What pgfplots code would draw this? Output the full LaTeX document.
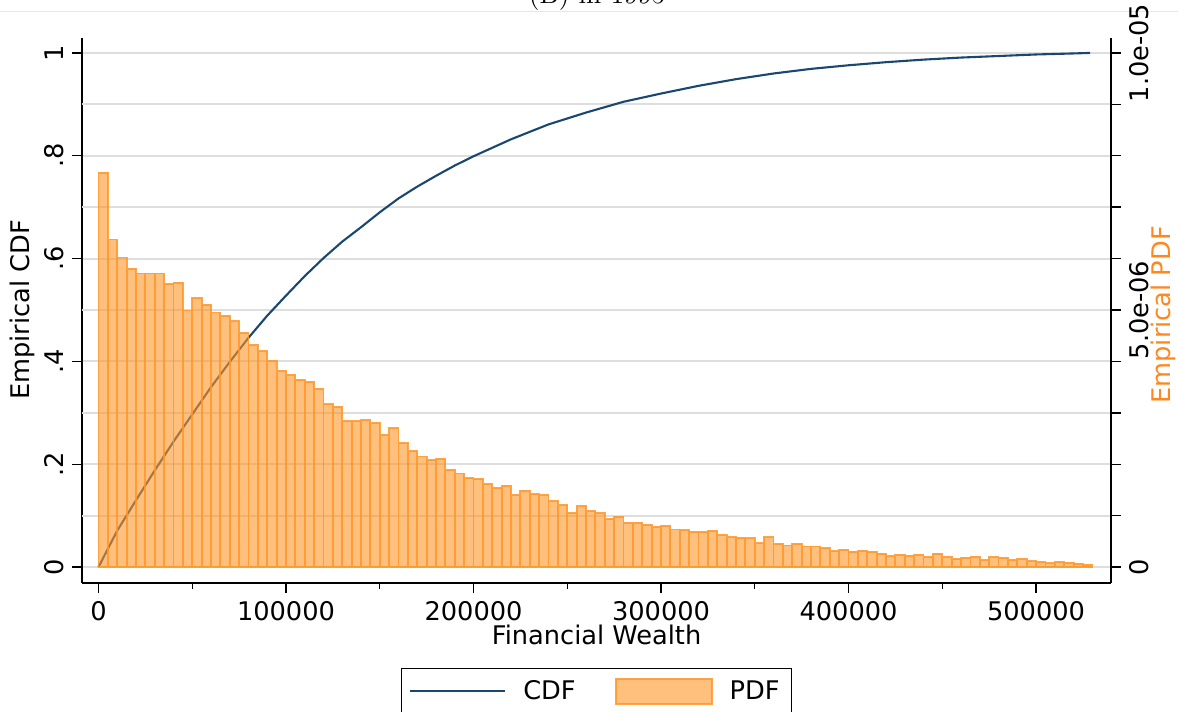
\documentclass[border=0pt]{standalone}
\usepackage{pgfplots}
\pgfplotsset{compat=1.18}
\usepackage{pgfplotstable}
\usepackage{fontspec}
\newfontfamily\dv{DejaVu Sans}
\newcommand\lab{\dv\fontsize{11}{13}\selectfont}
\definecolor{navy}{RGB}{26,71,111}
\definecolor{sorange}{RGB}{255,150,40}
\definecolor{plabel}{RGB}{255,135,30}
\definecolor{gridc}{RGB}{222,222,222}
\definecolor{topline}{RGB}{226,231,231}
\pgfplotsset{
  lineleg/.style={legend image code/.code={\draw[##1] (0pt,0pt) -- (41pt,0pt);}},
  boxleg/.style={legend image code/.code={\draw[##1] (0pt,-5.3pt) rectangle (41pt,5.3pt);}},
}

\pgfplotstableread{
x pdf
2500 7.67e-6
7500 6.37e-6
12500 6.02e-6
17500 5.80e-6
22500 5.71e-6
27500 5.71e-6
32500 5.71e-6
37500 5.51e-6
42500 5.53e-6
47500 4.99e-6
52500 5.23e-6
57500 5.10e-6
62500 4.95e-6
67500 4.89e-6
72500 4.78e-6
77500 4.55e-6
82500 4.32e-6
87500 4.20e-6
92500 4.01e-6
97500 3.81e-6
102500 3.73e-6
107500 3.64e-6
112500 3.60e-6
117500 3.47e-6
122500 3.17e-6
127500 3.11e-6
132500 2.84e-6
137500 2.84e-6
142500 2.86e-6
147500 2.80e-6
152500 2.57e-6
157500 2.70e-6
162500 2.41e-6
167500 2.26e-6
172500 2.15e-6
177500 2.08e-6
182500 2.10e-6
187500 1.89e-6
192500 1.82e-6
197500 1.73e-6
202500 1.71e-6
207500 1.61e-6
212500 1.54e-6
217500 1.58e-6
222500 1.40e-6
227500 1.48e-6
232500 1.42e-6
237500 1.40e-6
242500 1.28e-6
247500 1.20e-6
252500 1.05e-6
257500 1.18e-6
262500 1.09e-6
267500 1.05e-6
272500 0.93e-6
277500 0.97e-6
282500 0.86e-6
287500 0.86e-6
292500 0.82e-6
297500 0.78e-6
302500 0.80e-6
307500 0.73e-6
312500 0.72e-6
317500 0.69e-6
322500 0.68e-6
327500 0.70e-6
332500 0.62e-6
337500 0.58e-6
342500 0.57e-6
347500 0.56e-6
352500 0.46e-6
357500 0.58e-6
362500 0.45e-6
367500 0.42e-6
372500 0.45e-6
377500 0.40e-6
382500 0.40e-6
387500 0.37e-6
392500 0.31e-6
397500 0.34e-6
402500 0.30e-6
407500 0.32e-6
412500 0.30e-6
417500 0.26e-6
422500 0.215e-6
427500 0.24e-6
432500 0.22e-6
437500 0.24e-6
442500 0.195e-6
447500 0.26e-6
452500 0.20e-6
457500 0.156e-6
462500 0.18e-6
467500 0.20e-6
472500 0.13e-6
477500 0.195e-6
482500 0.18e-6
487500 0.136e-6
492500 0.15e-6
497500 0.117e-6
502500 0.097e-6
507500 0.072e-6
512500 0.097e-6
517500 0.086e-6
522500 0.066e-6
527500 0.047e-6
}\pdftable

\pgfplotstableread{
x cdf
0 0
10000 0.071
20000 0.130
30000 0.188
40000 0.244
50000 0.297
60000 0.350
70000 0.399
80000 0.446
90000 0.489
100000 0.528
110000 0.566
120000 0.601
130000 0.633
140000 0.661
150000 0.690
160000 0.717
170000 0.740
180000 0.761
190000 0.781
200000 0.799
220000 0.832
240000 0.861
260000 0.884
280000 0.905
300000 0.921
320000 0.936
340000 0.949
360000 0.960
380000 0.969
400000 0.976
420000 0.982
440000 0.987
460000 0.991
480000 0.994
500000 0.997
520000 0.999
528800 1.000
}\cdftable

\begin{document}
\begin{tikzpicture}
\useasboundingbox (-35.15pt,-54.87pt) rectangle (469.8pt,249.9pt);
\draw[topline, line width=0.45pt] (-35.15pt,244.8pt) -- (469.8pt,244.8pt);
\node[anchor=base, font=\large, inner sep=0pt] at (220.8pt,248.6pt) {(B) in 1995};
\begin{axis}[
  scale only axis, width=441.1pt, height=233.6pt,
  xmin=-8800, xmax=540000, ymin=-0.031, ymax=1.029,
  axis x line*=bottom, axis y line*=left,
  axis line style={line width=0.6pt},
  tick style={line width=0.6pt, black},
  tick align=outside, major tick length=4.3pt, minor tick length=2.6pt,
  scaled x ticks=false, scaled y ticks=false,
  xtick={0,100000,200000,300000,400000,500000},
  xticklabels={0,100000,200000,300000,400000,500000},
  minor xtick={50000,150000,250000,350000,450000},
  ytick={0,0.2,0.4,0.6,0.8,1},
  yticklabels={0,.2,.4,.6,.8,1},
  extra y ticks={0.1,0.3,0.5,0.7,0.9},
  extra y tick labels={},
  extra y tick style={major tick length=0pt, ymajorgrids=true},
  ymajorgrids,
  grid style={gridc, line width=0.85pt},
  ticklabel style={font=\lab},
  yticklabel style={rotate=90, anchor=south},
  xlabel={Financial Wealth}, ylabel={Empirical CDF},
  label style={font=\lab},
  xlabel style={at={(axis description cs:0.5,-0.0955)}, anchor=center},
  ylabel style={at={(axis description cs:-0.0583,0.501)}, anchor=center},
]
\addplot[navy, line width=0.9pt] table[x=x,y=cdf]{\cdftable};
\end{axis}
\begin{axis}[
  scale only axis, width=441.1pt, height=233.6pt,
  xmin=-8800, xmax=540000, ymin=-3.1e-7, ymax=1.029e-5,
  axis x line=none, axis y line*=right,
  axis line style={line width=0.6pt},
  tick style={line width=0.6pt, black},
  tick align=outside, major tick length=4.3pt,
  scaled x ticks=false, scaled y ticks=false,
  ytick={0,1e-6,2e-6,3e-6,4e-6,5e-6,6e-6,7e-6,8e-6,9e-6,1e-5},
  yticklabels={0,,,,,5.0e-06,,,,,1.0e-05},
  yticklabel style={rotate=90, anchor=north, font=\lab},
  ylabel={Empirical PDF},
  ylabel style={at={(axis description cs:1.0506,0.492)}, anchor=center, font=\lab, text=plabel},
  legend columns=2,
  legend style={at={(axis description cs:0.5,-0.1558)}, anchor=north, draw=black, line width=0.5pt,
    font=\lab, inner xsep=3pt, inner ysep=3pt,
    /tikz/every odd column/.append style={column sep=5.2pt},
    /tikz/every even column/.append style={column sep=15pt}},
]
\addlegendimage{navy, line width=0.9pt, lineleg}
\addlegendentry{CDF}
\addplot[ybar, bar width=5000, bar shift=0pt, fill=sorange, fill opacity=0.6, draw=sorange, draw opacity=0.85, line width=0.8pt,
  boxleg] table[x=x,y=pdf]{\pdftable};
\addlegendentry{PDF}
\end{axis}
\end{tikzpicture}
\end{document}
